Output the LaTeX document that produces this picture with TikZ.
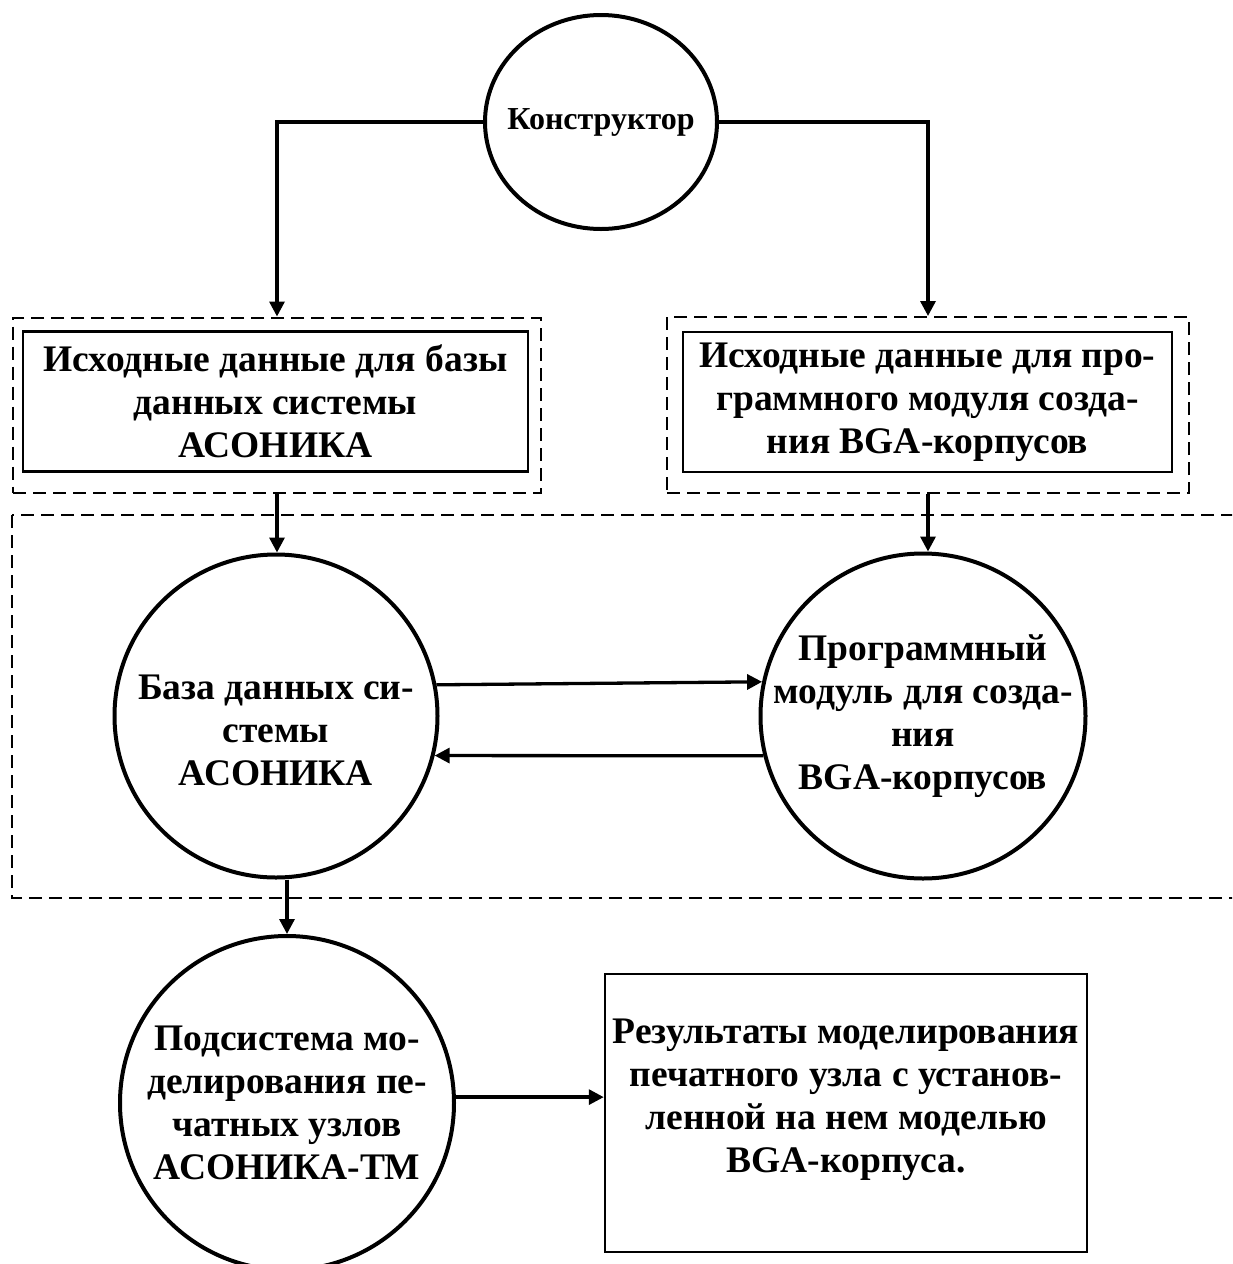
\documentclass[tikz,border=0pt]{standalone}
\usepackage{fontspec}
\setmainfont{Liberation Serif}
\usetikzlibrary{arrows.meta,shapes.geometric}
\begin{document}
\begin{tikzpicture}[x=1pt,y=-1pt,
  txt/.style={font=\bfseries\fontsize{37.5}{43}\selectfont, align=center, inner sep=0pt},
  circ/.style={draw, circle, line width=4pt, inner sep=0pt},
  dbox/.style={draw, line width=2pt, dash pattern=on 13pt off 7pt, inner sep=0pt},
  sbox/.style={draw, line width=2.5pt, inner sep=0pt},
  arr/.style={line width=3.3pt, -{Triangle[length=15pt,width=15pt]}}
]
\clip (0,0) rectangle (1232,1264);
\fill[white] (0,0) rectangle (1232,1264);

% top ellipse
\node[draw, ellipse, line width=4pt, inner sep=0pt, minimum width=232pt, minimum height=214pt,
  label={[font=\bfseries\fontsize{32}{38}\selectfont, inner sep=0pt]center:Конструктор}] (kon) at (601,122) {};

% input boxes
\node[dbox, minimum width=528pt, minimum height=175pt] (lout) at (277,405) {};
\node[sbox, txt, minimum width=505pt, minimum height=140pt] (lin) at (275.5,401.5)
  {Исходные данные для базы\\данных системы\\АСОНИКА};
\node[dbox, minimum width=522pt, minimum height=176pt] (rout) at (928,405) {};
\node[sbox, txt, minimum width=489pt, minimum height=140pt] (rin) at (927.5,402)
  {Исходные данные для про-\\граммного модуля созда-\\ния BGA-корпусов};

% big dashed frame
\draw[line width=2pt, dash pattern=on 13pt off 7pt] (12,515) rectangle (1270,898);

% circles
\node[circ, minimum size=323pt,
  label={[txt, yshift=-14pt]center:{База данных си-\\стемы\\АСОНИКА}}] (base) at (276,716) {};
\node[circ, minimum size=325pt,
  label={[txt]center:{Программный\\модуль для созда-\\ния\\BGA-корпусов}}] (prog) at (923,716) {};
\node[circ, minimum size=334pt,
  label={[txt]center:{Подсистема мо-\\делирования пе-\\чатных узлов\\АСОНИКА-ТМ}}] (sub) at (287,1103) {};

% result box
\node[draw, line width=2.5pt, inner sep=0pt, minimum width=482pt, minimum height=278pt,
  label={[txt, yshift=13pt]center:{Результаты моделирования\\печатного узла с установ-\\ленной на нем моделью\\BGA-корпуса.}}] (res) at (846,1113) {};

% connectors
\draw[arr] (kon.west) -| (lout.north);
\draw[arr] (kon.east) -| (rout.north);
\draw[arr] (lout.south) -- (lout.south |- base.north);
\draw[arr] (rout.south) -- (rout.south |- prog.north);
\draw[arr] (base.11.7) -- (prog.168.4);
\draw[arr] (prog.194.1) -- (base.-14.2);
\draw[arr] (sub.north |- base.south) -- (sub.north);
\draw[arr] (sub.2) -- (sub.2 -| res.west);
\end{tikzpicture}
\end{document}
